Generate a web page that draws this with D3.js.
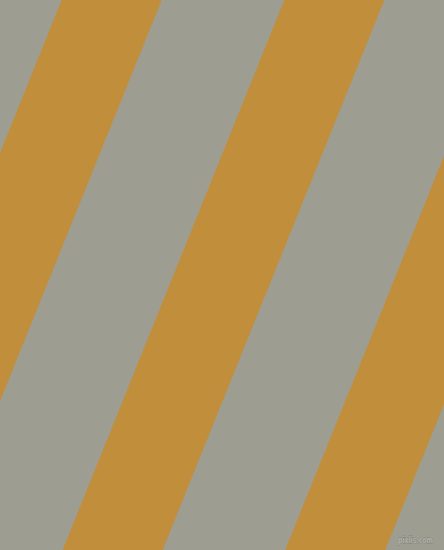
<!DOCTYPE html>
<html>
<head>
<meta charset="utf-8">
<script src="https://cdn.jsdelivr.net/npm/d3@7"></script>
<style>
  html, body { margin: 0; padding: 0; background: #9e9d92; }
  svg { display: block; }
</style>
</head>
<body>
<div id="chart"></div>
<script>
// stripe pattern: gold bands over a gray field
const stripeIndex = [0, 1, 2];
const stripeTopLeft = [61.7, 284.3];   // left edge of bands 0 and 1 at the top
const bandWidth = [100];               // horizontal width of a gold band
const drift = [0.403];                 // horizontal shift per pixel going down
const colors = ['#9e9d92', '#c18e3b'];
const watermark = ['pixlis.com'];

const width = 444, height = 550;

const svg = d3.select('#chart')
  .append('svg')
  .attr('width', width)
  .attr('height', height);

svg.append('rect')
  .attr('width', width)
  .attr('height', height)
  .attr('fill', colors[0]);

// index -> left edge at y = 0
const x = d3.scaleLinear().domain([0, 1]).range(stripeTopLeft);
// y -> horizontal offset
const shift = d3.scaleLinear().domain([0, height]).range([0, -height * drift[0]]);

const line = d3.line();

svg.append('g')
  .selectAll('path')
  .data(stripeIndex)
  .join('path')
  .attr('fill', colors[1])
  .attr('d', i => {
    const l = x(i), r = x(i) + bandWidth[0];
    return line([
      [l + shift(0), 0],
      [r + shift(0), 0],
      [r + shift(height), height],
      [l + shift(height), height]
    ]) + 'Z';
  });

svg.append('text')
  .attr('x', 398)
  .attr('y', 542.5)
  .attr('textLength', 35)
  .attr('lengthAdjust', 'spacingAndGlyphs')
  .attr('font-family', 'DejaVu Sans, sans-serif')
  .attr('font-weight', 'bold')
  .attr('font-size', 8.5)
  .attr('fill', '#b1b0a6')
  .attr('stroke', '#7e7e75')
  .attr('stroke-width', 0.8)
  .attr('paint-order', 'stroke')
  .text(watermark[0]);
</script>
</body>
</html>
